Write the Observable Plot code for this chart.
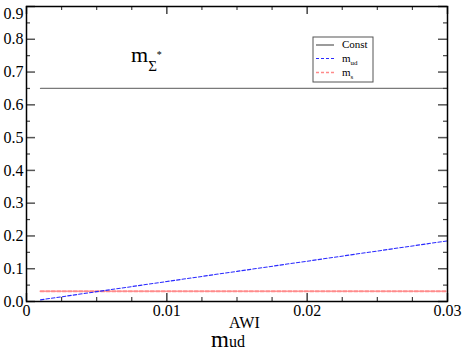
<!DOCTYPE html>
<html><head><meta charset="utf-8">
<script src="https://cdn.jsdelivr.net/npm/d3@7"></script>
<script src="https://cdn.jsdelivr.net/npm/@observablehq/plot@0.6"></script>
<style>body{margin:0;background:#fff}#chart{position:relative;width:463px;height:353px}</style>
</head><body><div id="chart"></div>
<script>
const xValues = [0.001, 0.005, 0.01, 0.015, 0.02, 0.025, 0.03];
const constValues = [0.65, 0.65, 0.65, 0.65, 0.65, 0.65, 0.65];
const mudValues = [0.005, 0.030, 0.061, 0.092, 0.123, 0.154, 0.185];
const msValues = [0.031, 0.031, 0.031, 0.031, 0.031, 0.031, 0.031];
const seriesNames = ["Const", "m_ud", "m_s"];
const xTicks = [0, 0.01, 0.02, 0.03];
const xMinorTicks = [0.0025, 0.005, 0.0075, 0.0125, 0.015, 0.0175, 0.0225, 0.025, 0.0275];
const yTicks = [0, 0.1, 0.2, 0.3, 0.4, 0.5, 0.6, 0.7, 0.8, 0.9];
const yMinorTicks = [0.05, 0.15, 0.25, 0.35, 0.45, 0.55, 0.65, 0.75, 0.85];

const W = 463, H = 353, mL = 26, mR = 16, mT = 6, mB = 52;
const fw = W - mL - mR, fh = H - mT - mB;
const rows = (ys) => xValues.map((x, i) => ({x, y: ys[i]}));
const font = "'Liberation Serif', 'DejaVu Serif', serif";

const plot = Plot.plot({
  width: W, height: H,
  marginLeft: mL, marginRight: mR, marginTop: mT, marginBottom: mB,
  style: {fontSize: "15px", color: "black", background: "white"},
  x: {domain: [0, 0.03], label: null},
  y: {domain: [0, 0.9], label: null},
  marks: [
    Plot.lineY(rows(constValues), {x: "x", y: "y", stroke: "#7a7a7a", strokeWidth: 1.3}),
    Plot.lineY(rows(msValues), {x: "x", y: "y", stroke: "#ff8a8a", strokeWidth: 2, strokeDasharray: "3.5,2"}),
    Plot.lineY(rows(mudValues), {x: "x", y: "y", stroke: "#2a2aff", strokeWidth: 1.1, strokeDasharray: "3.5,2"}),
    Plot.tickX(xTicks, {x: d => d, insetTop: fh - 8, stroke: "#444", strokeWidth: 1.5}),
    Plot.tickX(xTicks, {x: d => d, insetBottom: fh - 8, stroke: "#444", strokeWidth: 1.5}),
    Plot.tickX(xMinorTicks, {x: d => d, insetTop: fh - 4, stroke: "#444", strokeWidth: 1.2}),
    Plot.tickX(xMinorTicks, {x: d => d, insetBottom: fh - 4, stroke: "#444", strokeWidth: 1.2}),
    Plot.tickY(yTicks, {y: d => d, insetRight: fw - 9, stroke: "#555", strokeWidth: 1.5}),
    Plot.tickY(yTicks, {y: d => d, insetLeft: fw - 9, stroke: "#555", strokeWidth: 1.5}),
    Plot.tickY(yMinorTicks, {y: d => d, insetRight: fw - 4, stroke: "#444", strokeWidth: 1.2}),
    Plot.tickY(yMinorTicks, {y: d => d, insetLeft: fw - 4, stroke: "#444", strokeWidth: 1.2}),
    Plot.axisX(xTicks, {tickSize: 0, tickPadding: 3, tickFormat: d => d === 0 ? "0" : d.toFixed(2), fontSize: 16}),
    Plot.axisY(yTicks, {tickSize: 0, tickPadding: 3, tickFormat: d => d.toFixed(1), fontSize: 16}),
    Plot.frame({stroke: "black", strokeWidth: 1.5})
  ]
});
document.getElementById("chart").appendChild(plot);

const svg = d3.select(plot);
svg.attr("font-family", font).style("font-family", font);
const txt = (x, y) => svg.append("text").attr("fill", "black")
  .attr("text-anchor", "start").attr("x", x).attr("y", y);
// annotation m_Σ*
const t1 = txt(131, 61.5);
t1.append("tspan").attr("font-size", 22).text("m");
t1.append("tspan").attr("font-size", 15).attr("dy", 9).text("Σ");
t1.append("tspan").attr("font-size", 10).attr("dy", -13).text("*");
// x axis label
const t2 = txt(211, 346.5);
t2.append("tspan").attr("font-size", 23).text("m");
t2.append("tspan").attr("font-size", 16).text("ud");
txt(229, 328).attr("font-size", 16).text("AWI");

// legend
const lg = svg.append("g").attr("fill", "black").attr("text-anchor", "start");
lg.append("rect").attr("x", 313).attr("y", 37).attr("width", 60).attr("height", 45)
  .attr("fill", "white").attr("stroke", "#555").attr("stroke-width", 1);
const legendItems = [
  {y: 45, color: "#7a7a7a", dash: null, w: 1.5, label: "Const", sub: ""},
  {y: 58.5, color: "#2a2aff", dash: "3,2", w: 1, label: "m", sub: "ud"},
  {y: 72.5, color: "#ff8a8a", dash: "3,2", w: 1.6, label: "m", sub: "s"}
];
legendItems.forEach((it) => {
  lg.append("line").attr("x1", 316).attr("x2", 334).attr("y1", it.y).attr("y2", it.y)
    .attr("stroke", it.color).attr("stroke-width", it.w).attr("stroke-dasharray", it.dash);
  const tt = lg.append("text").attr("x", 342).attr("y", it.y + 3).attr("font-size", 11);
  tt.append("tspan").text(it.label);
  if (it.sub) tt.append("tspan").attr("font-size", 7).attr("dy", 3).text(it.sub);
});
svg.selectAll("g[aria-label$='tick label']").attr("font-variant", null).style("font-variant", "normal");
svg.selectAll("text").attr("font-family", font).style("font-family", font).style("font-variant-numeric", "normal");
// keep the top y label inside the picture
svg.selectAll("g[aria-label='y-axis tick label'] text").filter(function() { return this.textContent === "0.9"; }).attr("dy", "0.45em");
</script>
</body></html>
